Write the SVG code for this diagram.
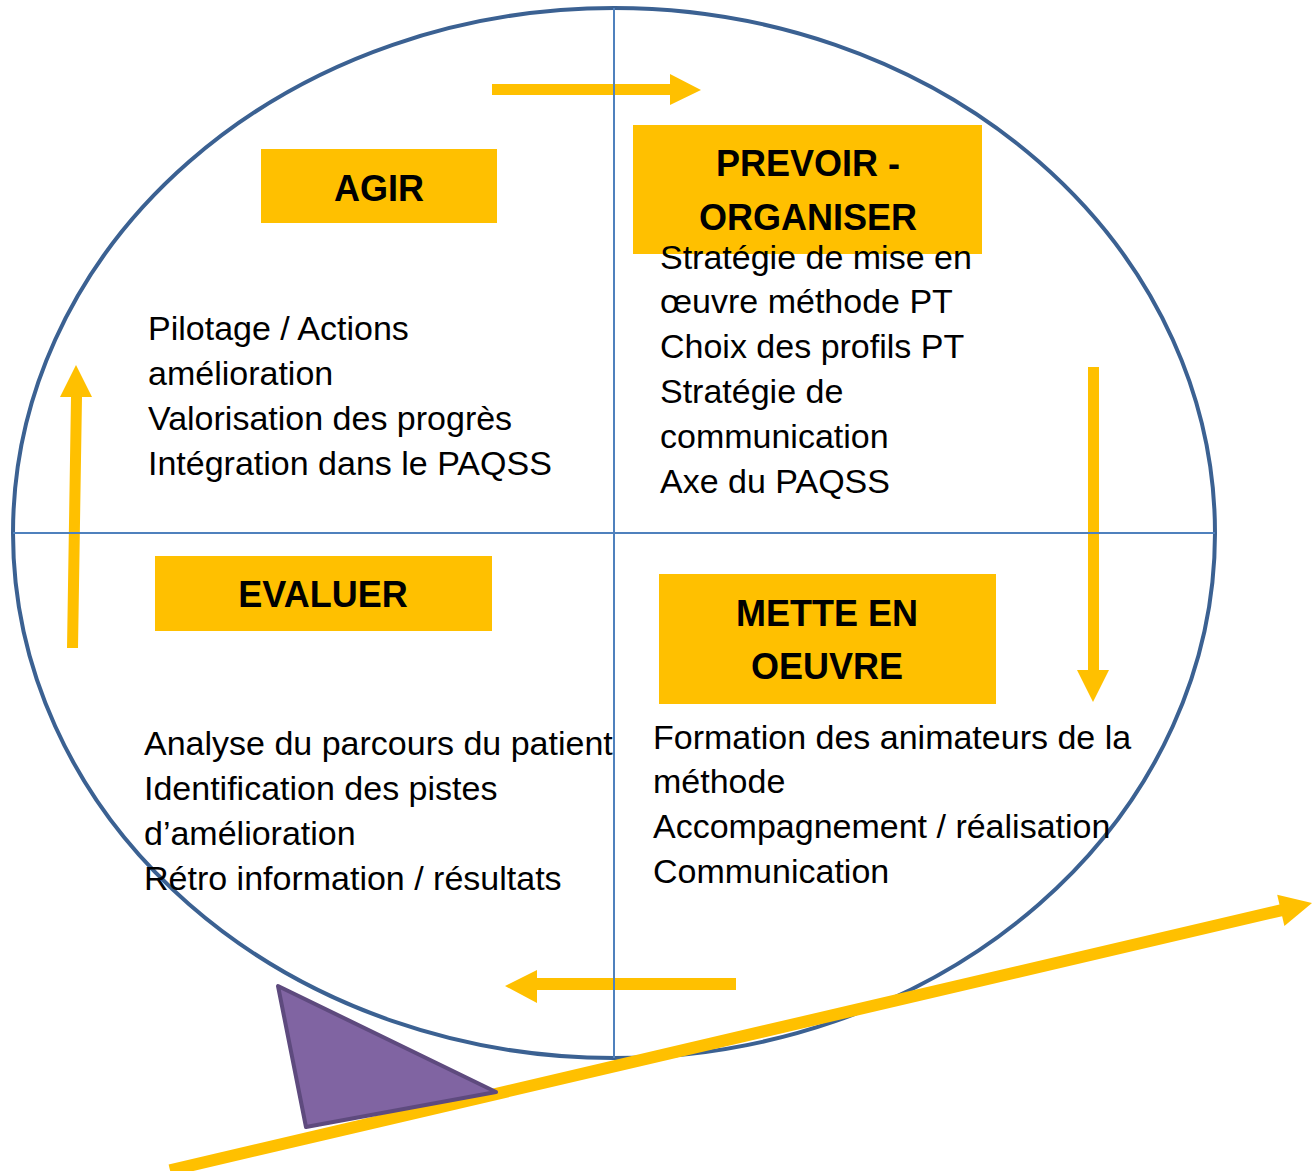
<svg xmlns="http://www.w3.org/2000/svg" width="1312" height="1171" viewBox="0 0 1312 1171">
<style>
.box{fill:#FFC000}
.head{font-family:"Liberation Sans",Arial,sans-serif;font-weight:bold;font-size:36px;fill:#000;text-anchor:middle}
.body{font-family:"Liberation Sans",Arial,sans-serif;font-size:34px;fill:#000}
.arr{fill:#FFC000}
.cross{stroke:#4F81BD;stroke-width:2;fill:none}
</style>
<rect width="1312" height="1171" fill="#fff"/>
<ellipse cx="614" cy="533" rx="601" ry="525" fill="none" stroke="#3B6192" stroke-width="4"/>
<g id="connectors">
<polygon class="arr" points="492,84 670,84 670,74 701,90 670,105 670,95 492,95"/>
<polygon class="arr" points="1088,367 1099,367 1099,670 1109,670 1093,702 1077,670 1088,670"/>
<polygon class="arr" points="736,978 736,990 537,990 537,1003 505,986 537,970 537,978"/>
<polygon class="arr" points="67,648 71,397 60,397 76,365 92,397 82,397 78,648"/>
<line x1="170" y1="1170.3" x2="1283" y2="909.8" stroke="#FFC000" stroke-width="12"/>
<polygon class="arr" points="1312,903 1284.4,925.9 1277.2,894.7"/>
</g>
<line class="cross" x1="614" y1="8" x2="614" y2="1058"/>
<line class="cross" x1="13" y1="533" x2="1215" y2="533"/>
<g id="triangle">
<polygon points="278,986 306,1127 496,1092" fill="#8064A2" stroke="#5E4A7E" stroke-width="4" stroke-linejoin="round"/>
</g>
<g id="agir">
<rect class="box" x="261" y="149" width="236" height="74"/>
<text class="head" x="379" y="201">AGIR</text>
<text class="body" x="148" y="340">Pilotage / Actions</text>
<text class="body" x="148" y="385">amélioration</text>
<text class="body" x="148" y="430">Valorisation des progrès</text>
<text class="body" x="148" y="475">Intégration dans le PAQSS</text>
</g>
<g id="prevoir">
<rect class="box" x="633" y="125" width="349" height="129"/>
<text class="head" x="808" y="176">PREVOIR -</text>
<text class="head" x="808" y="230">ORGANISER</text>
<text class="body" x="660" y="269">Stratégie de mise en</text>
<text class="body" x="660" y="313">œuvre méthode PT</text>
<text class="body" x="660" y="358">Choix des profils PT</text>
<text class="body" x="660" y="403">Stratégie de</text>
<text class="body" x="660" y="448">communication</text>
<text class="body" x="660" y="493">Axe du PAQSS</text>
</g>
<g id="evaluer">
<rect class="box" x="155" y="556" width="337" height="75"/>
<text class="head" x="323" y="607">EVALUER</text>
<text class="body" x="144" y="755">Analyse du parcours du patient</text>
<text class="body" x="144" y="800">Identification des pistes</text>
<text class="body" x="144" y="845">d’amélioration</text>
<text class="body" x="144" y="890">Rétro information / résultats</text>
</g>
<g id="mettre">
<rect class="box" x="659" y="574" width="337" height="130"/>
<text class="head" x="827" y="626">METTE EN</text>
<text class="head" x="827" y="679">OEUVRE</text>
<text class="body" x="653" y="749">Formation des animateurs de la</text>
<text class="body" x="653" y="793">méthode</text>
<text class="body" x="653" y="838">Accompagnement / réalisation</text>
<text class="body" x="653" y="883">Communication</text>
</g>
</svg>
